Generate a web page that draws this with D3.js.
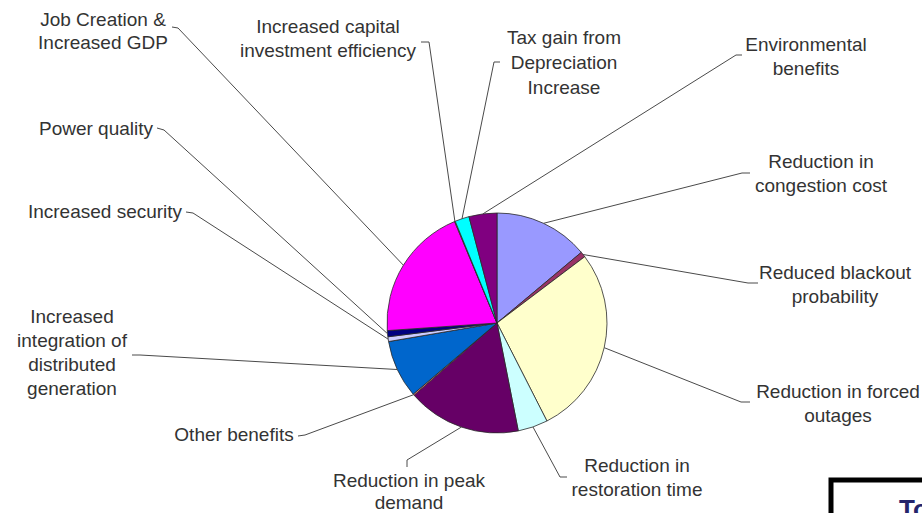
<!DOCTYPE html>
<html>
<head>
<meta charset="utf-8">
<script src="https://cdn.jsdelivr.net/npm/d3@7"></script>
<style>
  body { margin: 0; background: #fff; }
  text { font-family: "Liberation Sans", Arial, sans-serif; }
</style>
</head>
<body>
<div id="plot"></div>
<script>
// slice data, clockwise from 12 o'clock
const categories = [
  ["Reduction in", "congestion cost"],
  ["Reduced blackout", "probability"],
  ["Reduction in forced", "outages"],
  ["Reduction in", "restoration time"],
  ["Reduction in peak", "demand"],
  ["Other benefits"],
  ["Increased", "integration of", "distributed", "generation"],
  ["Increased security"],
  ["Power quality"],
  ["Job Creation &", "Increased GDP"],
  ["Increased capital", "investment efficiency"],
  ["Tax gain from", "Depreciation", "Increase"],
  ["Environmental", "benefits"]
];
const shares = [13.9, 0.8, 27.8, 4.4, 16.7, 0.2, 8.5, 0.7, 0.9, 19.8, 0.1, 2.1, 4.1];
const colors = ["#9999ff", "#993366", "#ffffcc", "#ccffff", "#660066", "#ff8080",
  "#0066cc", "#ccccff", "#000080", "#ff00ff", "#ffff00", "#00ffff", "#800080"];

// label layout: text centre x, first baseline y, line step, leader start and stub end
const labelLayout = [
  {x: 821, y: 168, step: 24, lead: [[750, 173], [742, 173]]},
  {x: 835, y: 279, step: 24, lead: [[758, 283], [748, 283]]},
  {x: 838, y: 398, step: 24, lead: [[750, 402], [741, 402]]},
  {x: 637, y: 472, step: 24, lead: [[567, 477], [560, 477]]},
  {x: 409, y: 487, step: 22, lead: [[407, 467], [407, 460]]},
  {x: 234, y: 441, step: 24, lead: [[298, 436], [305, 435]]},
  {x: 72, y: 323, step: 24, lead: [[132, 355], [140, 355]]},
  {x: 105, y: 218, step: 24, lead: [[186, 212], [193, 213]]},
  {x: 96, y: 135, step: 24, lead: [[157, 128], [164, 130]]},
  {x: 103, y: 26, step: 23, lead: [[172, 27], [178, 28]]},
  {x: 328, y: 33, step: 24, lead: [[421, 42], [429, 42]]},
  {x: 564, y: 44, step: 25, lead: [[500, 62], [494, 62]]},
  {x: 806, y: 51, step: 24, lead: [[742, 55], [736, 55]]}
];

const w = 922;
const h = 513;
const cx = 497, cy = 323, r = 110;

const svg = d3.select("div#plot")
  .append("svg")
    .attr("width", w)
    .attr("height", h);

svg.append("rect")
    .attr("width", w)
    .attr("height", h)
    .attr("fill", "#fff");

const pie = d3.pie().sort(null).value(d => d);
const arcs = pie(shares);
const arc = d3.arc().innerRadius(0).outerRadius(r);

const g = svg.append("g")
    .attr("transform", `translate(${cx},${cy})`);

g.selectAll("path")
  .data(arcs)
  .enter().append("path")
    .attr("d", arc)
    .attr("fill", (d, i) => colors[i])
    .attr("stroke", "#2a2a2a")
    .attr("stroke-width", 0.8);

// leader lines end at the slice's mid-angle on the rim
const edgePoint = d => {
  const a = (d.startAngle + d.endAngle) / 2;
  return [cx + Math.sin(a) * r, cy - Math.cos(a) * r];
};

svg.append("g").selectAll("path")
  .data(arcs)
  .enter().append("path")
    .attr("d", (d, i) => d3.line()(labelLayout[i].lead.concat([edgePoint(d)])))
    .attr("fill", "none")
    .attr("stroke", "#4a4a4a")
    .attr("stroke-width", 1);

const labels = svg.append("g").selectAll("text")
  .data(categories)
  .enter().append("text")
    .attr("x", (d, i) => labelLayout[i].x)
    .attr("y", (d, i) => labelLayout[i].y)
    .attr("text-anchor", "middle")
    .attr("font-size", 19)
    .attr("fill", "#333");

labels.each(function(lines, i) {
  d3.select(this).selectAll("tspan")
    .data(lines)
    .enter().append("tspan")
      .attr("x", labelLayout[i].x)
      .attr("dy", (d, j) => j === 0 ? 0 : labelLayout[i].step)
      .text(d => d);
});

// cropped box in the lower right corner
svg.append("rect")
    .attr("x", 831)
    .attr("y", 480)
    .attr("width", 200)
    .attr("height", 100)
    .attr("fill", "#fff")
    .attr("stroke", "#000")
    .attr("stroke-width", 5);

svg.append("text")
    .attr("x", 899)
    .attr("y", 518)
    .attr("font-size", 26)
    .attr("font-weight", "bold")
    .attr("fill", "#24246b")
    .text("To");
</script>
</body>
</html>
